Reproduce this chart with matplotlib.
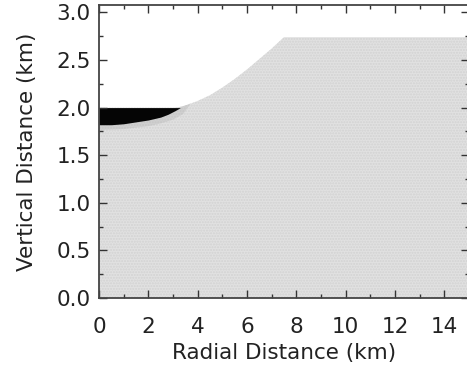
import numpy as np
import matplotlib
matplotlib.use('Agg')
import matplotlib.pyplot as plt
from matplotlib.ticker import MultipleLocator

# surface of the grey body (km)
surf_x = [0.0, 3.2, 3.6, 4.0, 4.5, 5.0, 5.5, 6.0, 6.5, 7.0, 7.5, 15.0]
surf_y = [2.0, 2.0, 2.03, 2.07, 2.13, 2.21, 2.30, 2.40, 2.51, 2.62, 2.74, 2.74]

# black lens
lens_x = [0.0, 0.5, 1.0, 1.5, 2.0, 2.5, 2.8, 3.1, 3.3]
lens_top = [2.0, 2.0, 2.0, 2.0, 2.0, 2.0, 2.0, 2.0, 2.0]
lens_bot = [1.82, 1.82, 1.83, 1.85, 1.87, 1.90, 1.93, 1.97, 2.0]

# grey halo around the lens
halo_x = [0.0, 1.0, 2.0, 2.5, 3.0, 3.4, 3.7]
halo_top = [2.0, 2.0, 2.0, 2.0, 2.0, 2.02, 2.05]
halo_bot = [1.77, 1.78, 1.81, 1.84, 1.88, 1.94, 2.05]

xticks = [0, 2, 4, 6, 8, 10, 12, 14]
yticks = [0.0, 0.5, 1.0, 1.5, 2.0, 2.5, 3.0]

fig = plt.figure(figsize=(4.67, 3.71), dpi=100)
ax = fig.add_axes([0.212, 0.197, 0.792, 0.79])

ax.fill_between(surf_x, 0, surf_y, color='#e1e1e1', lw=0, hatch='......',
                edgecolor='#d2d2d2')
ax.fill_between(halo_x, halo_bot, halo_top, color='#b0b0b0', lw=0, alpha=0.35)
ax.fill_between(lens_x, lens_bot, lens_top, color='#050505', lw=0)

ax.set_xlim(0, 15)
ax.set_ylim(0, 3.08)
ax.set_xticks(xticks)
ax.set_yticks(yticks)
ax.set_yticklabels(['%.1f' % v for v in yticks])
ax.xaxis.set_minor_locator(MultipleLocator(1))
ax.yaxis.set_minor_locator(MultipleLocator(0.25))
ax.tick_params(which='both', direction='in', top=True, right=True,
               color='#333333', width=1.0, labelsize=15.5, labelcolor='#222222')
ax.tick_params(which='major', length=6)
ax.tick_params(which='minor', length=3)
ax.tick_params(axis='x', pad=14)
ax.tick_params(axis='y', pad=6)
for s in ax.spines.values():
    s.set_color('#444444')
    s.set_linewidth(1.3)

ax.set_xlabel('Radial Distance (km)', fontsize=15.5, color='#222222', labelpad=4)
ax.set_ylabel('Vertical Distance (km)', fontsize=15.5, color='#222222', labelpad=14)

fig.savefig('out.png', dpi=100)
